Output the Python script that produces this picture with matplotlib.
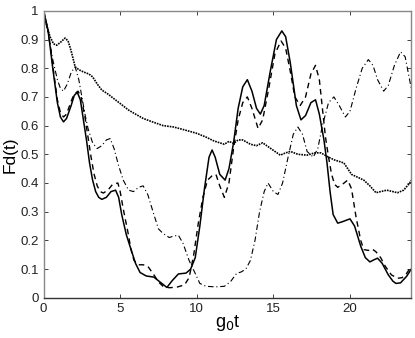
import numpy as np
import matplotlib
matplotlib.use('Agg')
import matplotlib.pyplot as plt

plt.rcParams['font.family'] = ['Liberation Sans', 'DejaVu Sans']

# values
solid_t = [0, 0.3, 0.6, 0.9, 1.1, 1.3, 1.5, 1.8, 2.0, 2.2, 2.4, 2.6, 2.8, 3.0, 3.2, 3.4, 3.6, 3.8,
           4.1, 4.4, 4.7, 4.9, 5.1, 5.4, 5.65, 6.0, 6.3, 6.7, 7.2, 7.6, 8.05, 8.4, 8.8, 9.3, 9.6,
           9.9, 10.2, 10.5, 10.8, 11.0, 11.2, 11.5, 11.85, 12.1, 12.4, 12.7, 13.0, 13.3, 13.6,
           13.9, 14.15, 14.4, 14.8, 15.2, 15.55, 15.8, 16.1, 16.5, 16.8, 17.1, 17.45, 17.75,
           18.0, 18.3, 18.5, 18.7, 18.9, 19.2, 19.5, 20.0, 20.3, 20.7, 21.0, 21.3, 21.55, 21.8,
           22.1, 22.5, 22.8, 23.0, 23.3, 23.7, 24.0]
solid_v = [1.0, 0.93, 0.80, 0.68, 0.63, 0.613, 0.625, 0.67, 0.705, 0.716, 0.69, 0.62, 0.55, 0.47,
           0.41, 0.37, 0.35, 0.343, 0.35, 0.37, 0.375, 0.35, 0.29, 0.22, 0.178, 0.12, 0.088, 0.076,
           0.072, 0.055, 0.036, 0.06, 0.083, 0.086, 0.10, 0.14, 0.25, 0.38, 0.49, 0.515, 0.49,
           0.43, 0.41, 0.45, 0.54, 0.66, 0.735, 0.76, 0.72, 0.66, 0.64, 0.67, 0.79, 0.90, 0.93,
           0.91, 0.82, 0.67, 0.62, 0.635, 0.68, 0.69, 0.64, 0.55, 0.47, 0.37, 0.29, 0.26, 0.265,
           0.275, 0.25, 0.18, 0.14, 0.125, 0.132, 0.138, 0.12, 0.08, 0.058, 0.05, 0.052, 0.075, 0.10]

dashed_t = [0, 0.3, 0.6, 0.9, 1.1, 1.3, 1.5, 1.8, 2.0, 2.25, 2.45, 2.7, 2.9, 3.1, 3.3, 3.5, 3.7,
            3.9, 4.2, 4.5, 4.85, 5.0, 5.2, 5.5, 5.7, 5.9, 6.2, 6.5, 6.8, 7.2, 7.5, 7.8, 8.2, 8.7,
            9.2, 9.5, 9.8, 10.1, 10.4, 10.7, 11.0, 11.25, 11.5, 11.8, 12.1, 12.4, 12.7, 13.0,
            13.3, 13.6, 14.0, 14.3, 14.7, 15.1, 15.5, 15.8, 16.1, 16.4, 16.75, 17.1, 17.45,
            17.75, 18.0, 18.2, 18.4, 18.6, 18.8, 19.0, 19.2, 19.5, 19.85, 20.1, 20.4, 20.7,
            20.9, 21.2, 21.45, 21.7, 22.0, 22.3, 22.7, 23.1, 23.4, 23.7, 24.0]
dashed_v = [1.0, 0.93, 0.81, 0.69, 0.645, 0.63, 0.64, 0.685, 0.71, 0.72, 0.70, 0.63, 0.56, 0.49,
            0.43, 0.39, 0.37, 0.365, 0.375, 0.395, 0.40, 0.37, 0.31, 0.23, 0.17, 0.13, 0.115,
            0.115, 0.11, 0.08, 0.055, 0.04, 0.035, 0.037, 0.045, 0.07, 0.15, 0.26, 0.35, 0.41,
            0.425, 0.43, 0.39, 0.35, 0.40, 0.52, 0.62, 0.68, 0.70, 0.66, 0.59, 0.62, 0.73, 0.85,
            0.895, 0.87, 0.79, 0.70, 0.67, 0.70, 0.78, 0.81, 0.76, 0.66, 0.56, 0.49, 0.43, 0.395,
            0.385, 0.395, 0.41, 0.38, 0.28, 0.20, 0.168, 0.165, 0.17, 0.16, 0.14, 0.11, 0.08,
            0.068, 0.07, 0.085, 0.11]

dotted_t = [0, 0.2, 0.42, 0.65, 0.86, 1.1, 1.4, 1.6, 1.8, 2.06, 2.3, 2.6, 2.95, 3.2, 3.5, 3.8,
            4.2, 4.56, 5.0, 5.55, 6.0, 6.5, 7.0, 7.8, 8.5, 9.2, 10.0, 10.6, 11.1, 11.5, 11.8,
            12.1, 12.4, 12.7, 13.0, 13.5, 13.9, 14.3, 14.7, 15.1, 15.45, 15.8, 16.1, 16.6, 17.2,
            17.7, 18.1, 18.6, 19.0, 19.6, 20.1, 20.5, 20.9, 21.3, 21.7, 22.0, 22.4, 22.8, 23.1,
            23.5, 23.9, 24.0]
dotted_v = [1.0, 0.95, 0.91, 0.885, 0.88, 0.89, 0.905, 0.895, 0.86, 0.805, 0.795, 0.787, 0.78,
            0.77, 0.745, 0.724, 0.71, 0.695, 0.677, 0.654, 0.64, 0.625, 0.615, 0.60, 0.595,
            0.585, 0.573, 0.56, 0.547, 0.54, 0.535, 0.545, 0.538, 0.55, 0.55, 0.535, 0.53, 0.54,
            0.525, 0.51, 0.497, 0.505, 0.51, 0.50, 0.497, 0.505, 0.505, 0.49, 0.48, 0.47, 0.43,
            0.42, 0.41, 0.39, 0.366, 0.37, 0.375, 0.37, 0.366, 0.375, 0.40, 0.41]

dashdot_t = [0, 0.3, 0.6, 0.9, 1.1, 1.3, 1.55, 1.8, 2.06, 2.3, 2.5, 2.7, 2.9, 3.2, 3.5, 3.8, 4.1,
             4.35, 4.6, 4.9, 5.2, 5.55, 5.87, 6.2, 6.5, 6.8, 7.2, 7.5, 7.8, 8.2, 8.5, 8.8, 9.1,
             9.5, 9.8, 10.2, 10.6, 11.2, 11.8, 12.2, 12.6, 12.9, 13.2, 13.5, 13.8, 14.1, 14.4,
             14.65, 15.0, 15.3, 15.6, 16.0, 16.3, 16.6, 16.9, 17.2, 17.6, 17.9, 18.2, 18.6,
             18.95, 19.3, 19.7, 20.0, 20.4, 20.8, 21.2, 21.5, 21.8, 22.2, 22.5, 22.9, 23.3,
             23.6, 24.0]
dashdot_v = [1.0, 0.92, 0.83, 0.76, 0.73, 0.72, 0.745, 0.785, 0.805, 0.76, 0.70, 0.64, 0.59,
             0.54, 0.52, 0.53, 0.55, 0.555, 0.52, 0.46, 0.41, 0.375, 0.37, 0.385, 0.39, 0.36,
             0.29, 0.24, 0.224, 0.21, 0.215, 0.218, 0.19, 0.13, 0.096, 0.05, 0.04, 0.038, 0.04,
             0.056, 0.085, 0.09, 0.10, 0.13, 0.20, 0.30, 0.37, 0.40, 0.37, 0.36, 0.40, 0.50,
             0.57, 0.595, 0.57, 0.51, 0.49, 0.52, 0.60, 0.68, 0.70, 0.67, 0.63, 0.65, 0.73, 0.80,
             0.83, 0.81, 0.76, 0.72, 0.74, 0.81, 0.857, 0.84, 0.73]

x_ticks = [0, 5, 10, 15, 20]
y_ticks = [0, 0.1, 0.2, 0.3, 0.4, 0.5, 0.6, 0.7, 0.8, 0.9, 1]
y_labels = ['0', '0.1', '0.2', '0.3', '0.4', '0.5', '0.6', '0.7', '0.8', '0.9', '1']

fig = plt.figure(figsize=(4.15, 3.38), dpi=100)
ax = fig.add_axes([0.105, 0.119, 0.886, 0.849])

ax.plot(solid_t, solid_v, 'k-', lw=1.1)
ax.plot(dashed_t, dashed_v, color='k', ls=(0, (4, 3)), lw=1.0)
ax.plot(dotted_t, dotted_v, color='k', ls=(0, (1, 0.6)), lw=1.2)
ax.plot(dashdot_t, dashdot_v, color='k', ls=(0, (5, 2.5, 1, 2.5)), lw=0.8)

ax.set_xlim(0, 24)
ax.set_ylim(0, 1)
ax.set_xticks(x_ticks)
ax.set_yticks(y_ticks)
ax.set_yticklabels(y_labels)
ax.tick_params(direction='in', top=True, right=True, length=3, width=0.6,
               labelsize=9.5, colors='#222222')
for side in ['top', 'right', 'left']:
    ax.spines[side].set_color('#888888')
ax.spines['bottom'].set_color('#333333')
for s in ax.spines.values():
    s.set_linewidth(1.0)

ax.set_xlabel(r'g$_0$t', fontsize=13, labelpad=-1)
ax.set_ylabel('Fd(t)', fontsize=12.5, labelpad=2)

fig.savefig('out.png', dpi=100)
